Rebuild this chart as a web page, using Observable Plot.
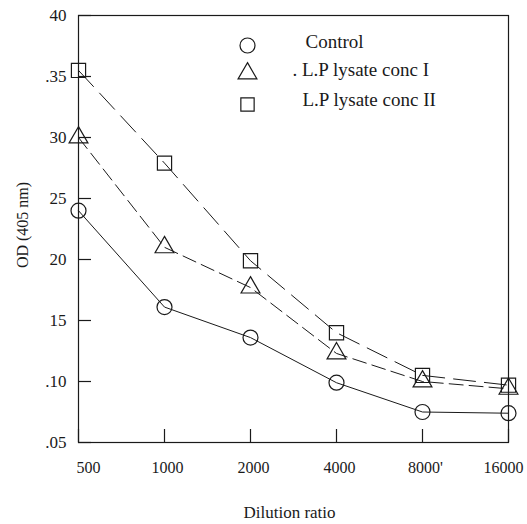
<!DOCTYPE html>
<html><head><meta charset="utf-8">
<script src="https://cdn.jsdelivr.net/npm/d3@7"></script>
<script src="https://cdn.jsdelivr.net/npm/@observablehq/plot@0.6"></script>
<style>body{margin:0;background:#fff}</style>
</head><body><div id="chart"></div>
<script>
const dilutions = [500, 1000, 2000, 4000, 8000, 16000];
const dilutionLabels = ["500", "1000", "2000", "4000", "8000'", "16000"];
const control = [0.240, 0.161, 0.136, 0.099, 0.075, 0.074];
const concI = [0.300, 0.210, 0.177, 0.123, 0.100, 0.094];
const concII = [0.355, 0.279, 0.199, 0.140, 0.105, 0.097];
const seriesNames = ["Control", ". L.P lysate conc I", "L.P lysate conc II"];
const seriesSymbols = ["circle", "triangle", "square"];
const yTicks = [0.40, 0.35, 0.30, 0.25, 0.20, 0.15, 0.10, 0.05];
const yTickLabels = ["40", ".35", "30", "25", "20", "15", ".10", ".05"];
const xTitle = "Dilution ratio";
const yTitle = "OD (405 nm)";

const rows = (vals, s) => dilutions.map((d, i) => ({dilution: d, od: vals[i], series: s}));
const dControl = rows(control, seriesNames[0]);
const dI = rows(concI, seriesNames[1]);
const dII = rows(concII, seriesNames[2]);
const xLab = dilutions.map((d, i) => ({d, label: dilutionLabels[i]}));
const yLab = yTicks.map((t, i) => ({t, label: yTickLabels[i]}));

const ink = "#1a1a1a";
const W = 527, H = 524, mL = 78, mR = 19, mT = 15, mB = 82;
const frameW = W - mL - mR, frameH = H - mT - mB;
const tickLen = 13;

// legend rows (pixel offsets from the frame's top-left corner)
const legendMarks = [];
const legendRowDy = [30, 58, 89];
const legendTextDx = [227, 214, 224];
const legendTextDy = [26, 54, 84];
seriesNames.forEach((name, i) => {
  legendMarks.push(Plot.dot([seriesSymbols[i]], {frameAnchor: "top-left", dx: 169, dy: legendRowDy[i], symbol: d => d, r: i === 1 ? 7 : 7.5, stroke: ink, strokeWidth: 1.2, fill: "none"}));
  legendMarks.push(Plot.text([name], {frameAnchor: "top-left", dx: legendTextDx[i], dy: legendTextDy[i], textAnchor: "start", lineAnchor: "middle", fill: ink, fontSize: 19, letterSpacing: "1.2px"}));
});

const chart = Plot.plot({
  width: W,
  height: H,
  marginLeft: mL,
  marginRight: mR,
  marginTop: mT,
  marginBottom: mB,
  style: {fontFamily: "'Liberation Serif', serif", fontSize: "16px", color: ink, background: "#fff"},
  x: {type: "log", base: 2, domain: [500, 16000], axis: null},
  y: {domain: [0.05, 0.40], axis: null},
  marks: [
    Plot.frame({stroke: ink, strokeWidth: 1.2}),
    Plot.tickY(yTicks, {y: d => d, insetRight: frameW - tickLen, stroke: ink, strokeWidth: 1.2}),
    Plot.tickX(dilutions, {x: d => d, insetTop: frameH - tickLen, stroke: ink, strokeWidth: 1.2}),
    Plot.text(yLab, {y: "t", text: "label", frameAnchor: "left", dx: -12, textAnchor: "end", lineAnchor: "middle", fill: ink, fontSize: 17}),
    Plot.text(xLab.slice(0, 1), {x: "d", frameAnchor: "bottom", text: "label", dy: 25, dx: 10, lineAnchor: "middle", fill: ink, fontSize: 16}),
    Plot.text(xLab.slice(1, 5), {x: "d", frameAnchor: "bottom", text: "label", dy: 25, dx: 3, lineAnchor: "middle", fill: ink, fontSize: 16}),
    Plot.text(xLab.slice(5), {x: "d", frameAnchor: "bottom", text: "label", dy: 25, dx: -5, lineAnchor: "middle", fill: ink, fontSize: 16}),
    Plot.text([xTitle], {frameAnchor: "bottom", dy: 70, dx: -4, textAnchor: "middle", lineAnchor: "middle", fill: ink, fontSize: 17}),
    Plot.text([yTitle], {frameAnchor: "left", dx: -56, dy: -4, rotate: -90, textAnchor: "middle", lineAnchor: "middle", fill: ink, fontSize: 16}),
    Plot.line(dControl, {x: "dilution", y: "od", stroke: ink, strokeWidth: 1}),
    Plot.line(dI, {x: "dilution", y: "od", stroke: ink, strokeWidth: 1, strokeDasharray: "14,6"}),
    Plot.line(dII, {x: "dilution", y: "od", stroke: ink, strokeWidth: 1, strokeDasharray: "22,9"}),
    Plot.dot(dControl, {x: "dilution", y: "od", symbol: "circle", r: 7.5, stroke: ink, strokeWidth: 1.2, fill: "none"}),
    Plot.dot(dI, {x: "dilution", y: "od", symbol: "triangle", r: 7, stroke: ink, strokeWidth: 1.2, fill: "none"}),
    Plot.dot(dII, {x: "dilution", y: "od", symbol: "square", r: 8, stroke: ink, strokeWidth: 1.2, fill: "none"}),
    ...legendMarks
  ]
});
document.getElementById("chart").append(chart);
</script>
</body></html>
